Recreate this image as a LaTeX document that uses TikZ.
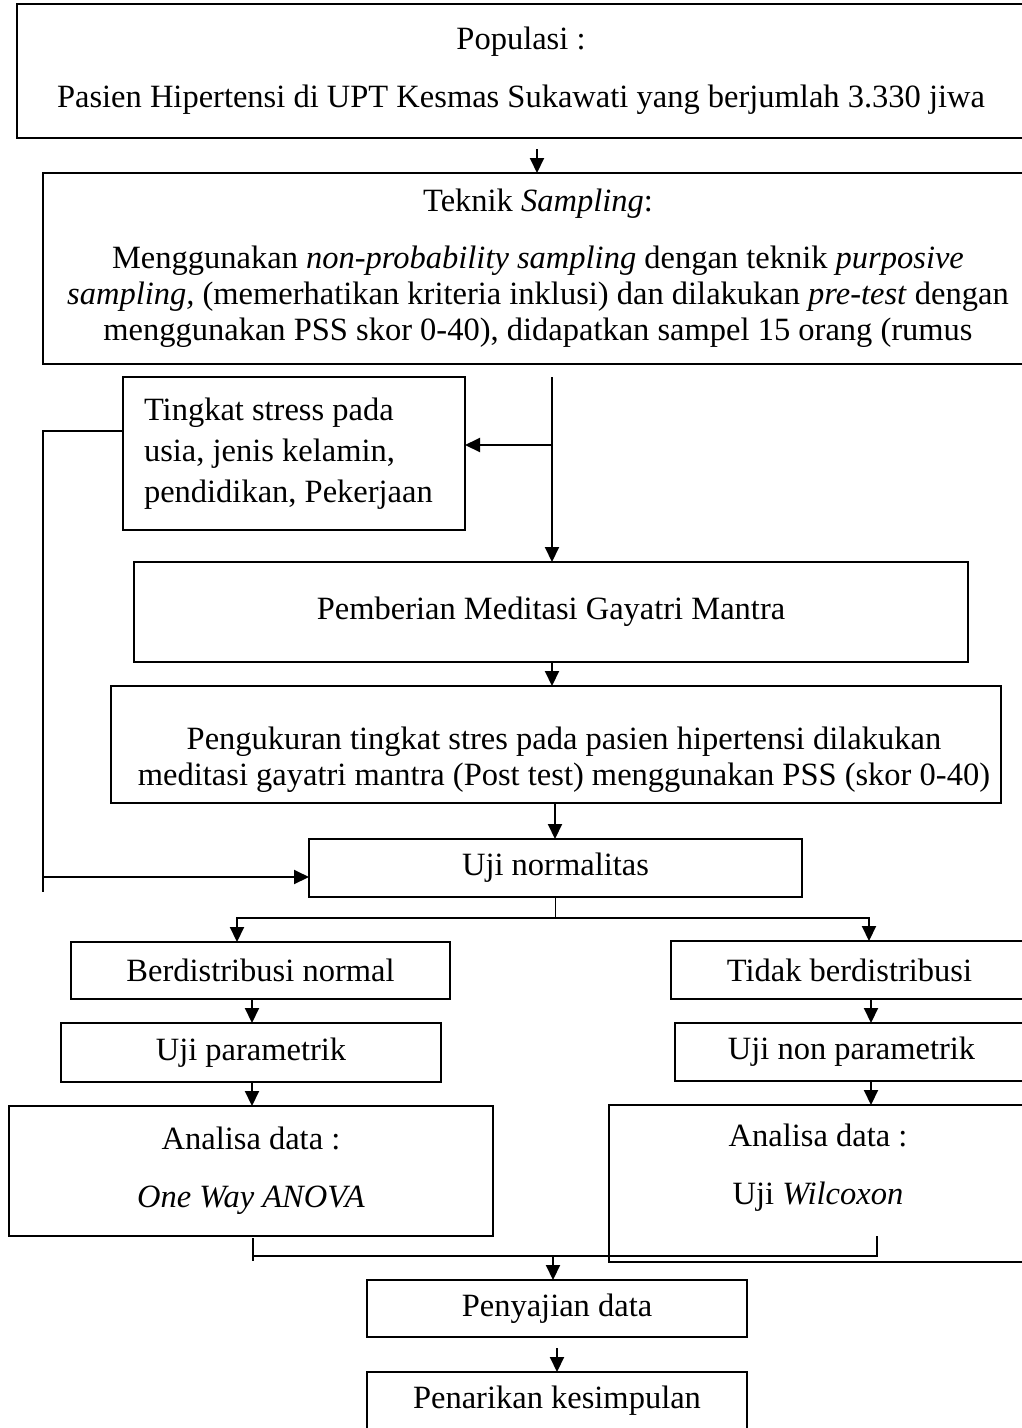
\documentclass[tikz,border=0pt]{standalone}
\usepackage{fontspec}
\setmainfont{Liberation Serif}
\usetikzlibrary{arrows.meta,positioning,calc}
\tikzset{
  flowbox/.style={draw=black, line width=1.5pt, anchor=north west, inner sep=0pt, outer sep=0pt,
    align=center, font=\fontsize{32.5}{36}\selectfont},
  flowtxt/.style={inner sep=0pt, align=center, font=\fontsize{32.5}{36}\selectfont},
  arr/.style={-{Triangle[length=15pt,width=14pt]}, line width=2pt},
  link/.style={line width=1.5pt},
}

\begin{document}
\begin{tikzpicture}[x=1pt, y=-1pt]
  \useasboundingbox (0,0) rectangle (1022,1428);
  \clip (0,0) rectangle (1022,1428);
  % main column
  \node[flowbox, minimum width=1008pt, minimum height=134pt] (pop) at (17,4)
    {Populasi :\\[22pt]Pasien Hipertensi di UPT Kesmas Sukawati yang berjumlah 3.330 jiwa};
  \node[flowbox, minimum width=990pt, minimum height=191pt] (samp) at (43,173)
    {Teknik \textit{Sampling}:\\[21pt]
     Menggunakan \textit{non-probability sampling} dengan teknik \textit{purposive}\\
     \textit{sampling,} (memerhatikan kriteria inklusi) dan dilakukan \textit{pre-test} dengan\\
     menggunakan PSS skor 0-40), didapatkan sampel 15 orang (rumus};
  \node[flowbox, minimum width=342pt, minimum height=153pt, text width=300pt, align=flush left,
    font=\fontsize{32.5}{41}\selectfont] (stress) at (123,377)
    {Tingkat stress pada\\usia, jenis kelamin,\\pendidikan, Pekerjaan};
  \node[flowbox, minimum width=834pt, minimum height=100pt] (med) at (134,562)
    {Pemberian Meditasi Gayatri Mantra};
  \node[flowbox, minimum width=890pt, minimum height=117pt] (ukur) at (111,686) {};
  \node[flowtxt] (ukurtxt) at (564,760)
    {Pengukuran tingkat stres pada pasien hipertensi dilakukan\\
     meditasi gayatri mantra (Post test) menggunakan PSS (skor 0-40)};
  \node[flowbox, minimum width=493pt, minimum height=58pt] (norm) at (309,839) {Uji normalitas};
  % left branch
  \node[flowbox, minimum width=379pt, minimum height=57pt] (normal) at (71,942) {Berdistribusi normal};
  \node[flowbox, minimum width=380pt, minimum height=59pt] (param) at (61,1023) {Uji parametrik};
  \node[flowbox, minimum width=484pt, minimum height=130pt] (anl) at (9,1106)
    {Analisa data :\\[22pt]\textit{One Way ANOVA}};
  % right branch
  \node[flowbox, minimum width=357pt, minimum height=58pt] (tidak) at (671,941) {Tidak berdistribusi};
  \node[flowbox, minimum width=353pt, minimum height=58pt] (nonpar) at (675,1023) {Uji non parametrik};
  \node[flowbox, minimum width=419pt, minimum height=157pt] (anr) at (609,1105) {};
  \node[flowtxt] (anrtxt) at (818,1168) {Analisa data :\\[22pt]Uji \textit{Wilcoxon}};
  % end
  \node[flowbox, minimum width=380pt, minimum height=57pt] (saji) at (367,1280) {Penyajian data};
  \node[flowbox, minimum width=380pt, minimum height=57pt] (tarik) at (367,1372) {Penarikan kesimpulan};

  % connectors
  \coordinate (popout) at (537,149);
  \draw[arr] (popout) -- (popout |- samp.north);
  \coordinate (vtop) at (552,377);
  \draw[arr] (vtop) -- (vtop |- med.north);
  \draw[arr] (vtop |- 0,445) -- (stress.east |- 0,445);
  \coordinate (loopL) at (43,431);
  \draw[link] (stress.west |- loopL) -- (loopL) -- (43,892);
  \draw[arr] (43,877) -- (norm.west |- 0,877);
  \draw[arr] (vtop |- med.south) -- (vtop |- ukur.north);
  \draw[arr] (555,803) -- (555,839);
  \coordinate (splitL) at (237,918);
  \coordinate (splitR) at (869,918);
  \draw[link] (norm.south) -- (norm.south |- splitL);
  \draw[arr] (splitL -| norm.south) -- (splitL) -- (splitL |- normal.north);
  \draw[arr] (splitL -| norm.south) -- (splitR) -- (splitR |- tidak.north);
  \draw[arr] (252,999) -- (252,1023);
  \draw[arr] (252,1082) -- (252,1106);
  \draw[arr] (871,999) -- (871,1023);
  \draw[arr] (871,1081) -- (871,1105);
  \coordinate (mergeL) at (253,1256);
  \coordinate (mergeR) at (877,1256);
  \draw[link] (253,1238) -- (253,1261);
  \draw[link] (mergeL) -- (mergeR) -- (877,1236);
  \draw[arr] (553,1256) -- (553,1280);
  \draw[arr] ([yshift=-11pt]saji.south) -- (tarik.north);
\end{tikzpicture}
\end{document}
